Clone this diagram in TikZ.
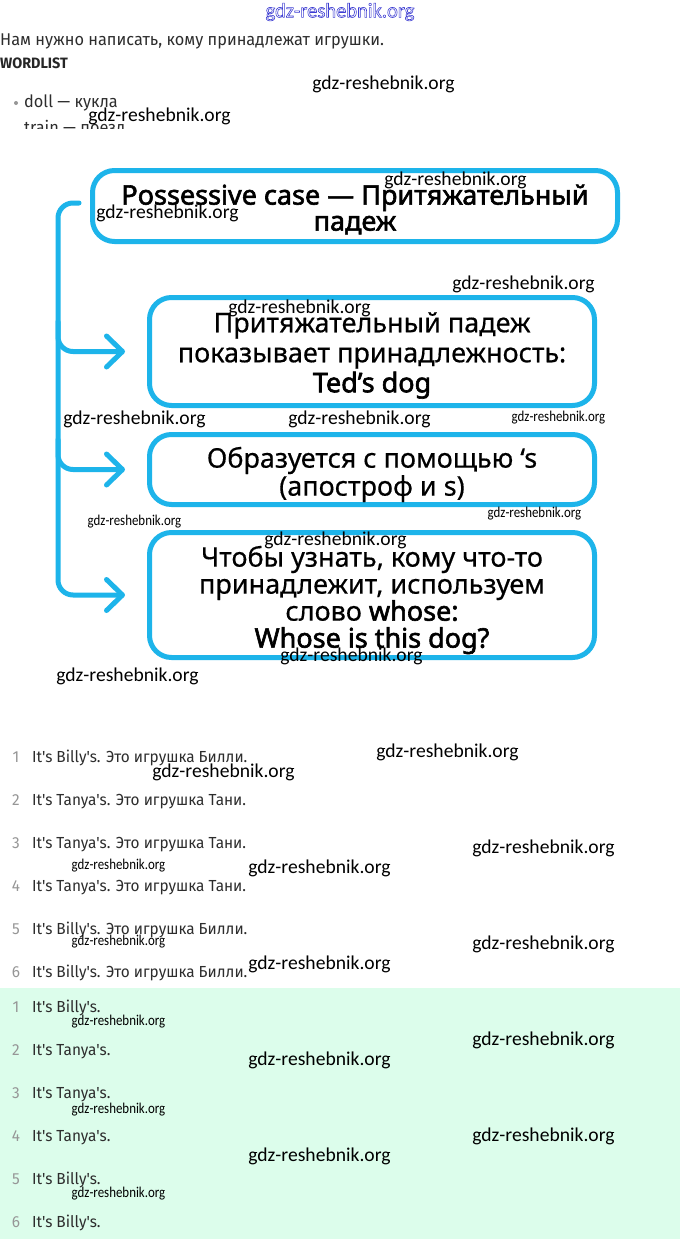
\documentclass[tikz,border=0pt]{standalone}
\usepackage{fontspec}
\usetikzlibrary{arrows.meta}
\setmainfont{Noto Sans}
\newfontfamily\bodyf[FakeStretch=0.96]{Fira Sans}
\newfontfamily\wmf{Carlito}
\newfontfamily\wmsf[FakeStretch=0.86]{Carlito}
\newfontfamily\boxf[FakeBold=0.5, BoldFont={Noto Sans}, BoldFeatures={FakeBold=2.2}]{Noto Sans}
\definecolor{cy}{RGB}{29,180,234}
\definecolor{mint}{RGB}{220,253,235}
\definecolor{numg}{RGB}{150,150,150}
\definecolor{txt}{RGB}{45,45,45}
\definecolor{wmblue}{RGB}{60,60,210}
\tikzset{
  box/.style={draw=cy, line width=5pt, rounded corners=22pt, inner sep=0pt},
  boxtext/.style={align=center, text=black, inner sep=0pt, font=\boxf\fontsize{27}{26}\selectfont},
  conn/.style={draw=cy, line width=5pt, line cap=round, line join=round, rounded corners=15pt},
  tip/.style={-{Straight Barb[length=16pt,width=31pt,line cap=round,line join=round]}},
  wm/.style={font=\wmf\fontsize{19.6}{20}\selectfont, text=black, inner sep=0pt},
  wms/.style={font=\wmsf\fontsize{15}{15}\selectfont, text=black, inner sep=0pt},
  num/.style={font=\bodyf\fontsize{16}{16}\selectfont, text=numg, inner sep=0pt, anchor=base},
  item/.style={font=\bodyf\fontsize{16}{16}\selectfont, text=txt, inner sep=0pt, anchor=base west},
}
\begin{document}
\begin{tikzpicture}[x=1pt, y=-1pt]
\useasboundingbox (0,0) rectangle (680,1239);
\fill[white] (0,0) rectangle (680,1239);
\fill[mint] (0,988) rectangle (680,1239);

% header
\node[wm, text=wmblue, font=\wmf\fontsize{20.5}{21}\selectfont] (wtop) at (340,12)
  {\special{pdf:literal direct 1 Tr 0.6 w}gdz-reshebnik.org\special{pdf:literal direct 0 Tr}};
\node[item, font=\bodyf\fontsize{17}{17}\selectfont] (hdr) at (0,46) {Нам нужно написать, кому принадлежат игрушки.};
\node[item, font=\bodyf\bfseries\fontsize{15}{15}\selectfont, text=black!85] (wl) at (0,69) {WORDLIST};
\fill[numg] (16,103) circle (2);
\node[item, font=\bodyf\fontsize{17}{17}\selectfont] (doll) at (24,107) {doll — кукла};
\begin{scope}
\clip (0,110) rectangle (300,128);
\node[item, font=\bodyf\fontsize{17}{17}\selectfont] (train) at (24,133) {train — поезд};
\end{scope}

% boxes
\node[box, minimum width=525pt, minimum height=71pt] (b1) at (355,206) {};
\node[boxtext, font=\boxf\bfseries\fontsize{27}{26}\selectfont] (b1t) at ([yshift=-3.5pt]b1.center)
  {Possessive case — Притяжательный\\падеж};
\node[box, minimum width=445pt, minimum height=108pt] (b2) at (372,351.5) {};
\node[boxtext, font=\boxf\fontsize{27}{30}\selectfont] (b2t) at ([yshift=-4pt]b2.center)
  {Притяжательный падеж\\показывает принадлежность:\\\textbf{Ted’s dog}};
\node[box, minimum width=445pt, minimum height=70pt] (b3) at (372,469.5) {};
\node[boxtext] (b3t) at ([yshift=-5pt]b3.center)
  {Образуется с помощью ‘s\\(апостроф и s)};
\node[box, minimum width=445pt, minimum height=125pt] (b4) at (372,595) {};
\node[boxtext, font=\boxf\fontsize{27}{27}\selectfont] (b4t) at ([yshift=-5pt]b4.center)
  {Чтобы узнать, кому что-то\\принадлежит, используем\\слово \textbf{whose:}\\\textbf{Whose is this dog?}};

% connectors
\coordinate (st) at ([xshift=-11pt,yshift=3pt]b1.west);
\coordinate (t2) at ([xshift=-22pt]b2.west);
\coordinate (t3) at ([xshift=-22pt]b3.west);
\coordinate (t4) at ([xshift=-22pt]b4.west);
\draw[conn, tip] (st) -| (58,0 |- t4) -- (t4);
\draw[conn, tip] (58,0 |- t2) ++(0,-30) |- (t2);
\draw[conn, tip] (58,0 |- t3) ++(0,-30) |- (t3);

% list 1
\foreach \n/\t [count=\i] in {1/{It's Billy's. Это игрушка Билли.},2/{It's Tanya's. Это игрушка Тани.},3/{It's Tanya's. Это игрушка Тани.},4/{It's Tanya's. Это игрушка Тани.},5/{It's Billy's. Это игрушка Билли.},6/{It's Billy's. Это игрушка Билли.}}{
  \node[num] (na\i) at (16,719+43*\i) {\n};
  \node[item] (ta\i) at (32,719+43*\i) {\t};
}
% list 2
\foreach \n/\t [count=\i] in {1/{It's Billy's.},2/{It's Tanya's.},3/{It's Tanya's.},4/{It's Tanya's.},5/{It's Billy's.},6/{It's Billy's.}}{
  \node[num] (nb\i) at (16,969+43*\i) {\n};
  \node[item] (tb\i) at (32,969+43*\i) {\t};
}

% watermarks
\node[wm] (w1) at (383.5,84) {gdz-reshebnik.org};
\node[wm] (w2) at (159.5,116) {gdz-reshebnik.org};
\node[wm] (w3) at (455.5,180) {gdz-reshebnik.org};
\node[wm] (w4) at (167.5,213) {gdz-reshebnik.org};
\node[wm] (w5) at (523.5,284) {gdz-reshebnik.org};
\node[wm] (w6) at (299.5,308) {gdz-reshebnik.org};
\node[wm] (w7) at (134.5,419) {gdz-reshebnik.org};
\node[wm] (w8) at (359.5,419) {gdz-reshebnik.org};
\node[wms] (w9) at (558.5,418) {gdz-reshebnik.org};
\node[wms] (w10) at (134.5,522) {gdz-reshebnik.org};
\node[wms] (w11) at (534.5,514) {gdz-reshebnik.org};
\node[wm] (w12) at (335.5,540) {gdz-reshebnik.org};
\node[wm] (w13) at (351.5,656) {gdz-reshebnik.org};
\node[wm] (w14) at (127.5,676) {gdz-reshebnik.org};
\node[wm] (w15) at (447.5,752) {gdz-reshebnik.org};
\node[wm] (w16) at (223.5,772) {gdz-reshebnik.org};
\node[wm] (w17) at (543.5,848) {gdz-reshebnik.org};
\node[wms] (w18) at (118.5,866) {gdz-reshebnik.org};
\node[wm] (w19) at (319.5,868) {gdz-reshebnik.org};
\node[wm] (w20) at (543.5,944) {gdz-reshebnik.org};
\node[wms] (w21) at (118.5,942) {gdz-reshebnik.org};
\node[wm] (w22) at (319.5,964) {gdz-reshebnik.org};
\node[wms] (w23) at (118.5,1022) {gdz-reshebnik.org};
\node[wm] (w24) at (543.5,1040) {gdz-reshebnik.org};
\node[wm] (w25) at (319.5,1060) {gdz-reshebnik.org};
\node[wms] (w26) at (118.5,1110) {gdz-reshebnik.org};
\node[wm] (w27) at (543.5,1136) {gdz-reshebnik.org};
\node[wm] (w28) at (319.5,1156) {gdz-reshebnik.org};
\node[wms] (w29) at (118.5,1194) {gdz-reshebnik.org};
\end{tikzpicture}
\end{document}
